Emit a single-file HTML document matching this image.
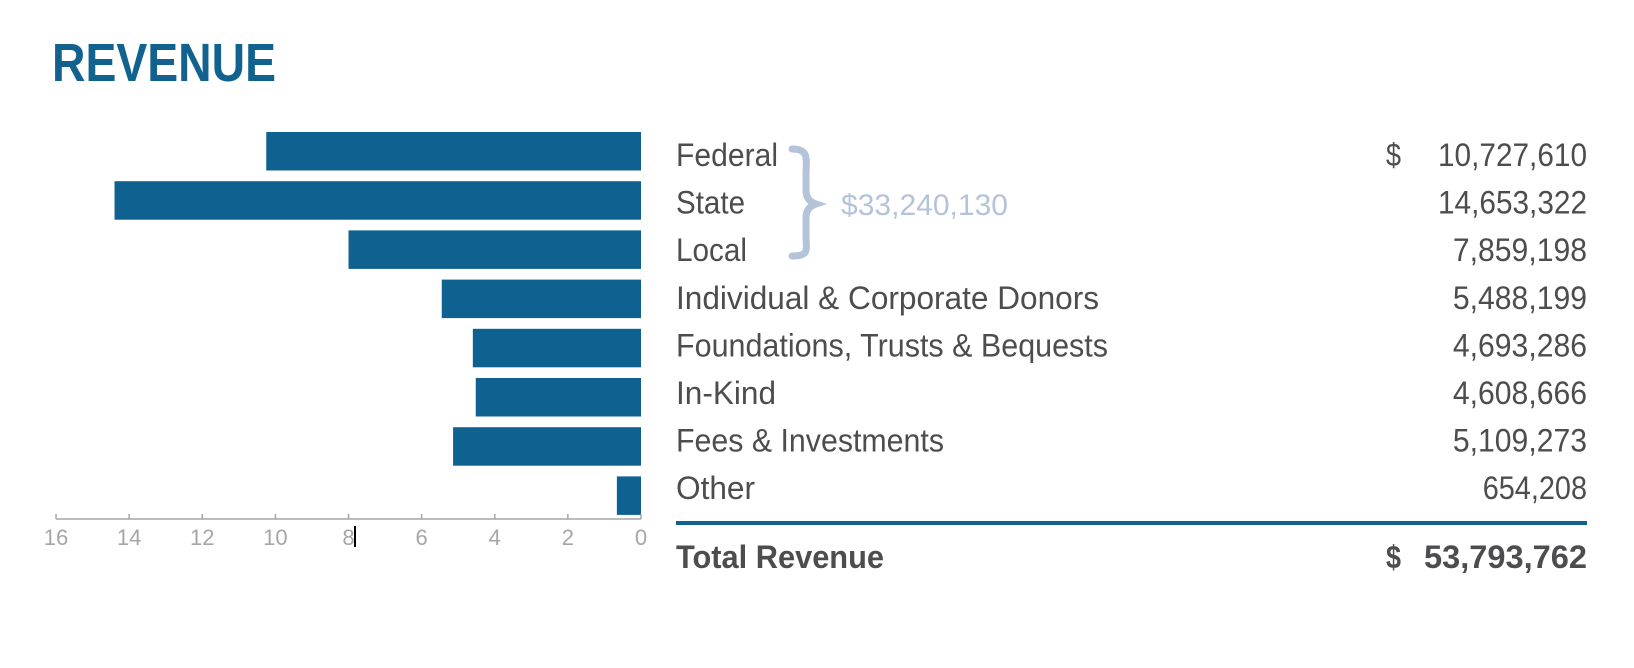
<!DOCTYPE html>
<html><head><meta charset="utf-8"><style>
html,body{margin:0;padding:0;background:#fff;}
svg{display:block;font-family:"Liberation Sans",sans-serif;}
</style></head><body>
<svg id="chart" width="1634" height="668" viewBox="0 0 1634 668" xmlns="http://www.w3.org/2000/svg">
<text x="52" y="81" font-size="54" font-weight="bold" fill="#12628f" textLength="224" lengthAdjust="spacingAndGlyphs">REVENUE</text>
<g id="bars"></g>
<g id="axis"></g>
<g id="labels"></g>
<g id="values"></g>
<path d="M792,149 C810,149 806,160 806,175 L806,190 C806,198 810,202 816,204 C810,206 806,210 806,218 L806,235 C806,250 810,256 792,256" fill="none" stroke="#b4c3d9" stroke-width="7" stroke-linecap="round"/>
<text x="841" y="215" font-size="30" fill="#b4c3d9" textLength="167" lengthAdjust="spacingAndGlyphs">$33,240,130</text>
<text x="1386" y="166" font-size="32" fill="#4d4d4f" textLength="15" lengthAdjust="spacingAndGlyphs">$</text>
<rect x="676" y="521" width="911" height="4" fill="#12628f"/>
<text x="676" y="568" font-size="32" font-weight="bold" fill="#4d4d4f" textLength="208" lengthAdjust="spacingAndGlyphs">Total Revenue</text>
<text x="1386" y="568" font-size="32" font-weight="bold" fill="#4d4d4f" textLength="15" lengthAdjust="spacingAndGlyphs">$</text>
<text x="1424" y="568" font-size="32" font-weight="bold" fill="#4d4d4f" textLength="163" lengthAdjust="spacingAndGlyphs">53,793,762</text>
<rect x="354" y="526" width="2" height="21" fill="#000"/>
</svg>
<script>
var categories = ["Federal","State","Local","Individual & Corporate Donors","Foundations, Trusts & Bequests","In-Kind","Fees & Investments","Other"];
var barValues = [10.25, 14.4, 8.0, 5.45, 4.6, 4.52, 5.14, 0.66];
var valueLabels = ["10,727,610","14,653,322","7,859,198","5,488,199","4,693,286","4,608,666","5,109,273","654,208"];
var tickValues = [16,14,12,10,8,6,4,2,0];
var labelWidths = [102,69,71,423,432,100,268,79];
var NS="http://www.w3.org/2000/svg";
var x0=641, pxPerUnit=36.56, top0=132, pitch=49.2, barH=38.5, textTop=166, textPitch=47.6;
function xScale(v){return x0 - v*pxPerUnit;}
function yRow(i){return top0 + i*pitch;}
function yText(i){return textTop + i*textPitch;}
function mk(tag,attrs,parent){var e=document.createElementNS(NS,tag);for(var k in attrs)e.setAttribute(k,attrs[k]);parent.appendChild(e);return e;}
var bars=document.getElementById('bars'),axis=document.getElementById('axis'),labels=document.getElementById('labels'),vals=document.getElementById('values');
for(var i=0;i<categories.length;i++){
  var r=mk('rect',{x:xScale(barValues[i]),y:yRow(i),width:xScale(0)-xScale(barValues[i]),height:barH,fill:'#0f6190'},bars);
  
  
  var t=mk('text',{x:676,y:yText(i),'font-size':32,fill:'#4d4d4f',textLength:labelWidths[i],lengthAdjust:'spacingAndGlyphs'},labels);
  t.textContent=categories[i];
  
  
  var v=mk('text',{x:1587,y:yText(i),'font-size':32,fill:'#4d4d4f','text-anchor':'end',textLength:valueLabels[i].length*14.9,lengthAdjust:'spacingAndGlyphs'},vals);
  v.textContent=valueLabels[i];
  
  
}
var al=mk('line',{x1:xScale(16),x2:xScale(0),y1:519,y2:519,stroke:'#a6a6a6','stroke-width':1.5},axis);


for(var j=0;j<tickValues.length;j++){
  var tx=xScale(tickValues[j]);
  var tk=mk('line',{x1:tx,x2:tx,y1:514,y2:519,stroke:'#a6a6a6','stroke-width':1.5},axis);
  
  
  var tl=mk('text',{x:tx,y:545,'font-size':22,fill:'#a6a6a6','text-anchor':'middle'},axis);
  tl.textContent=tickValues[j];
  
  
}
</script>
</body></html>
